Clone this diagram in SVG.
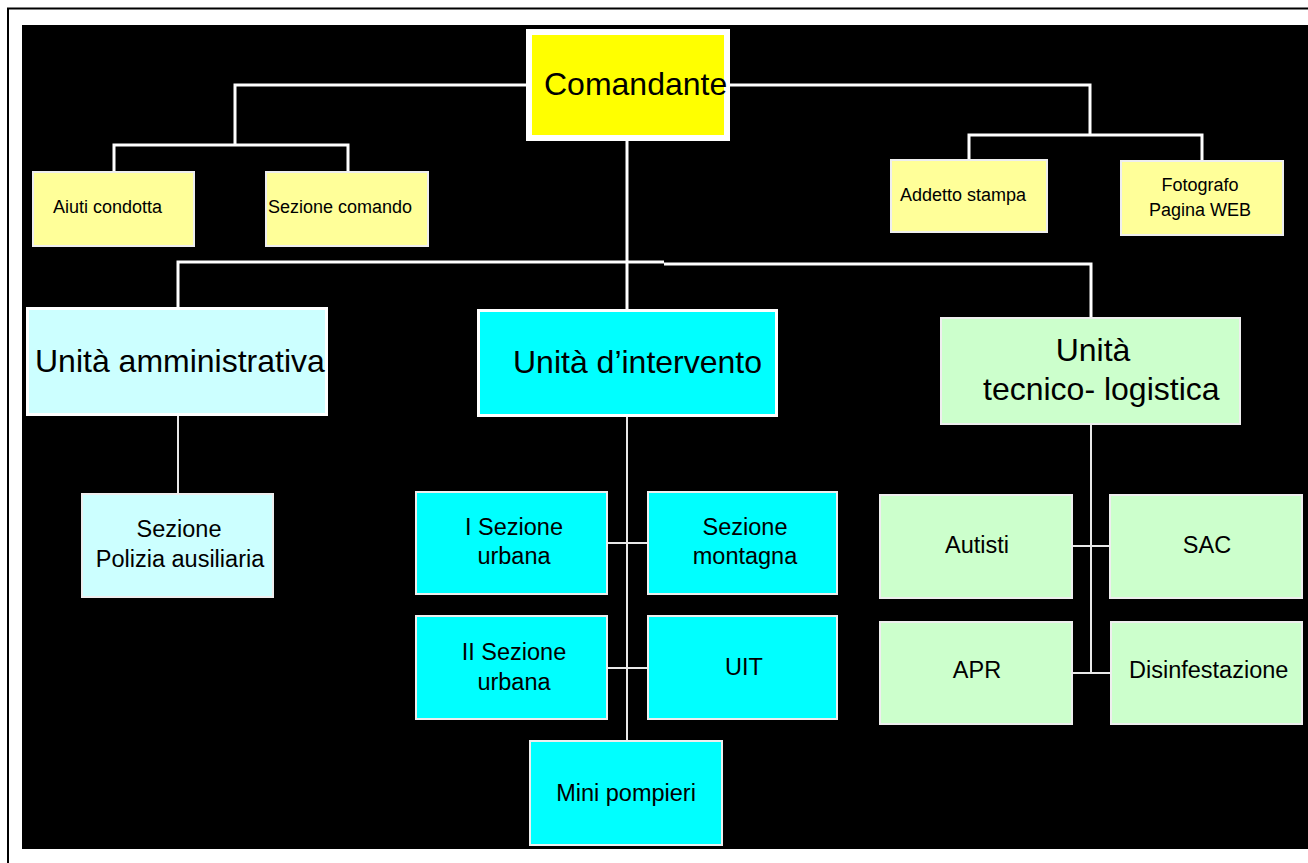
<svg xmlns="http://www.w3.org/2000/svg" width="1308" height="863" viewBox="0 0 1308 863">
  <style>
    text { font-family: "Liberation Sans", Arial, sans-serif; fill: #000; }
    .big { font-size: 32px; }
    .mid { font-size: 23.5px; }
    .sm { font-size: 18px; }
    .mc { text-anchor: middle; }
    .bus { fill: none; stroke: #fff; stroke-width: 3; }
    .thin { fill: none; stroke: #e8e8e8; stroke-width: 2; }
    .box { stroke: #eeeeee; stroke-width: 2; }
    .y1 { fill: #ffff99; }
    .c1 { fill: #00ffff; }
    .c2 { fill: #ccffff; }
    .g1 { fill: #ccffcc; }
  </style>

  <!-- page frame and slide background -->
  <rect x="0" y="0" width="1308" height="863" fill="#fff"/>
  <path d="M8,863 V8.5 H1308" fill="none" stroke="#000" stroke-width="2"/>
  <rect x="22" y="25" width="1286" height="824" fill="#000"/>

  <!-- connectors -->
  <g id="connectors">
    <path class="bus" d="M235,145 V85 H1090 V135"/>
    <path class="bus" d="M114,171 V145 H348 V171"/>
    <path class="bus" d="M969,159 V135 H1202 V160"/>
    <path class="bus" d="M627,141 V309"/>
    <path class="bus" d="M178,307 V262 H664"/>
    <path class="bus" d="M664,264 H1091 V317"/>
    <path class="thin" d="M178,416 V493"/>
    <path class="thin" d="M627,417 V741"/>
    <path class="thin" d="M608,543 H647"/>
    <path class="thin" d="M608,668 H647"/>
    <path class="thin" d="M1091,425 V673"/>
    <path class="thin" d="M1073,546 H1110"/>
    <path class="thin" d="M1073,673 H1111"/>
  </g>

  <g id="comandante">
    <rect x="529" y="32" width="198" height="106" fill="#ffff00" stroke="#fff" stroke-width="6"/>
    <text class="big" x="544" y="95">Comandante</text>
  </g>

  <g id="aiuti-condotta">
    <rect class="box y1" x="33" y="172" width="161" height="74"/>
    <text class="sm" x="53" y="213">Aiuti condotta</text>
  </g>
  <g id="sezione-comando">
    <rect class="box y1" x="266" y="172" width="162" height="74"/>
    <text class="sm" x="268" y="213">Sezione comando</text>
  </g>
  <g id="addetto-stampa">
    <rect class="box y1" x="891" y="160" width="156" height="72"/>
    <text class="sm" x="900" y="201">Addetto stampa</text>
  </g>
  <g id="fotografo">
    <rect class="box y1" x="1121" y="161" width="162" height="74"/>
    <text class="sm mc" x="1200" y="191">Fotografo</text>
    <text class="sm mc" x="1200" y="216">Pagina WEB</text>
  </g>

  <g id="unita-amministrativa">
    <rect class="c2" x="27.5" y="308.5" width="299" height="106" stroke="#fff" stroke-width="3"/>
    <text class="big" x="35" y="372">Unità amministrativa</text>
  </g>
  <g id="polizia-ausiliaria">
    <rect class="box c2" x="82" y="494" width="191" height="103"/>
    <text class="mid mc" x="179" y="537">Sezione</text>
    <text class="mid mc" x="180" y="567">Polizia ausiliaria</text>
  </g>

  <g id="unita-intervento">
    <rect class="c1" x="478.5" y="310.5" width="298" height="105" stroke="#fff" stroke-width="3"/>
    <text class="big" x="513" y="373">Unità d’intervento</text>
  </g>
  <g id="sezione-urbana-1">
    <rect class="box c1" x="416" y="492" width="191" height="102"/>
    <text class="mid mc" x="514" y="535">I Sezione</text>
    <text class="mid mc" x="514" y="564">urbana</text>
  </g>
  <g id="sezione-montagna">
    <rect class="box c1" x="648" y="492" width="189" height="102"/>
    <text class="mid mc" x="745" y="535">Sezione</text>
    <text class="mid mc" x="745" y="564">montagna</text>
  </g>
  <g id="sezione-urbana-2">
    <rect class="box c1" x="416" y="616" width="191" height="103"/>
    <text class="mid mc" x="514" y="660">II Sezione</text>
    <text class="mid mc" x="514" y="690">urbana</text>
  </g>
  <g id="uit">
    <rect class="box c1" x="648" y="616" width="189" height="103"/>
    <text class="mid mc" x="744" y="675">UIT</text>
  </g>
  <g id="mini-pompieri">
    <rect class="box c1" x="530" y="741" width="192" height="104"/>
    <text class="mid mc" x="626" y="801">Mini pompieri</text>
  </g>

  <g id="unita-tecnico-logistica">
    <rect class="g1" x="941" y="318" width="299" height="106" stroke="#eeeeee" stroke-width="2"/>
    <text class="big mc" x="1093" y="361">Unità</text>
    <text class="big" x="983" y="400">tecnico- logistica</text>
  </g>
  <g id="autisti">
    <rect class="box g1" x="880" y="495" width="192" height="103"/>
    <text class="mid mc" x="977" y="553">Autisti</text>
  </g>
  <g id="sac">
    <rect class="box g1" x="1110" y="495" width="192" height="103"/>
    <text class="mid mc" x="1207" y="553">SAC</text>
  </g>
  <g id="apr">
    <rect class="box g1" x="880" y="622" width="192" height="102"/>
    <text class="mid mc" x="977" y="678">APR</text>
  </g>
  <g id="disinfestazione">
    <rect class="box g1" x="1111" y="622" width="191" height="102"/>
    <text class="mid" x="1129" y="678">Disinfestazione</text>
  </g>
</svg>
